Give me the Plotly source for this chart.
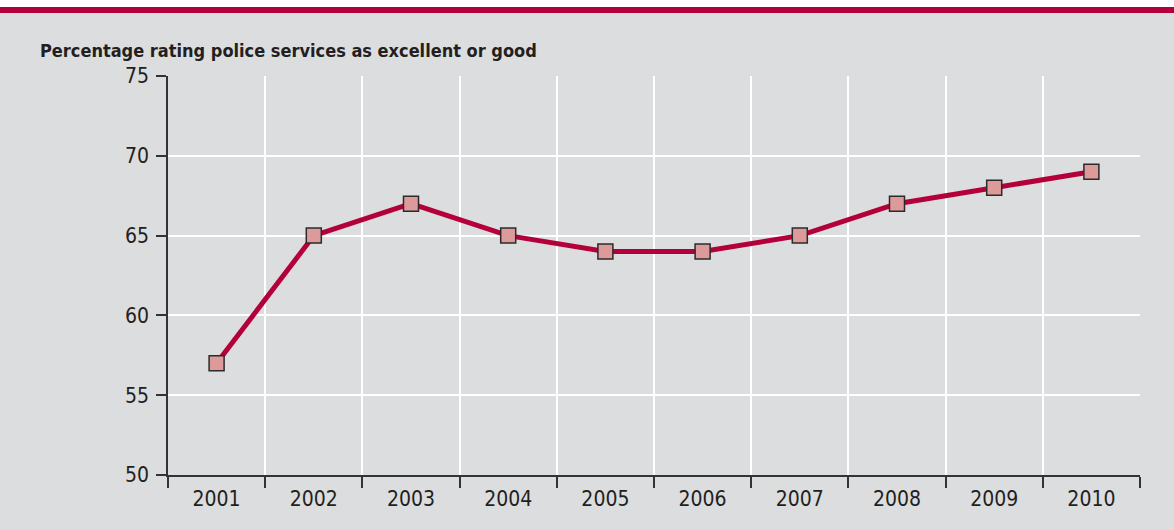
import plotly.graph_objects as go

years = ["2001", "2002", "2003", "2004", "2005", "2006", "2007", "2008", "2009", "2010"]
values = [57, 65, 67, 65, 64, 64, 65, 67, 68, 69]
y_ticks = [50, 55, 60, 65, 70, 75]

W, H = 1174, 530
L, R, T, B = 168, 34, 76, 55
RED = "#b4003a"
BG = "#dcdddf"
FONT = "DejaVu Sans Condensed, Liberation Sans Narrow, sans-serif"

fig = go.Figure()
fig.add_trace(go.Scatter(
    x=years, y=values, mode="lines+markers",
    line=dict(color=RED, width=5),
    marker=dict(symbol="square", size=15, color="#dd9a9a",
                line=dict(color="#2b2b2b", width=1.5)),
    hoverinfo="x+y", showlegend=False,
))

fig.update_layout(
    width=W, height=H,
    margin=dict(l=L, r=R, t=T, b=B, pad=0),
    paper_bgcolor=BG, plot_bgcolor=BG,
    font=dict(family=FONT, size=20, color="#231f20"),
    title=dict(text="<b>Percentage rating police services as excellent or good</b>",
               x=40 / W, xanchor="left", xref="container",
               y=1 - 51 / H, yanchor="middle", yref="container",
               font=dict(family=FONT, size=18, color="#231f20")),
    xaxis=dict(type="category", tickson="boundaries", range=[-0.5, 9.5],
               showgrid=True, gridcolor="white", gridwidth=1.5,
               showline=True, linecolor="#333333", linewidth=1.5,
               ticks="outside", ticklen=11, tickcolor="#333333", tickwidth=1.5,
               ticklabelstandoff=4,
               zeroline=False, tickfont=dict(size=21)),
    yaxis=dict(range=[50, 75], tickvals=y_ticks,
               showgrid=True, gridcolor="white", gridwidth=1.5,
               showline=True, linecolor="#333333", linewidth=1.5,
               ticks="outside", ticklen=10, tickcolor="#333333", tickwidth=1.5,
               ticklabelstandoff=3,
               zeroline=False, tickfont=dict(size=21)),
    shapes=[
        dict(type="rect", xref="paper", yref="paper",
             x0=-L / (W - L - R), x1=1 + R / (W - L - R),
             y0=1 + (T - 7) / (H - T - B), y1=1 + T / (H - T - B),
             fillcolor="white", line=dict(width=0), layer="below"),
        dict(type="rect", xref="paper", yref="paper",
             x0=-L / (W - L - R), x1=1 + R / (W - L - R),
             y0=1 + (T - 13) / (H - T - B), y1=1 + (T - 7) / (H - T - B),
             fillcolor=RED, line=dict(width=0), layer="below"),
    ],
)

fig.write_html("out.html")
